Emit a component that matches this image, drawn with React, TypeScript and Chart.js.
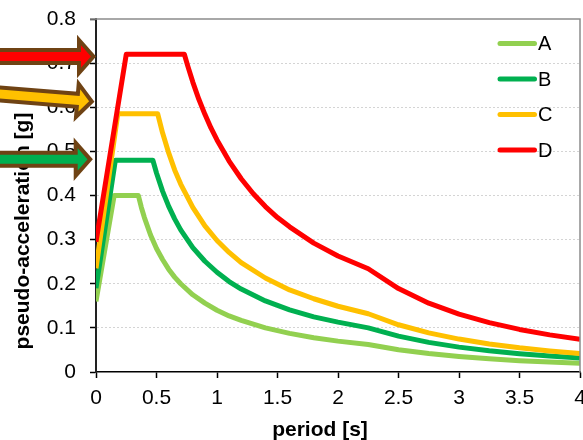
import React, { useEffect, useRef } from 'react';
import { Chart, registerables } from 'chart.js';

Chart.register(...registerables);

// ---- data ----
const seriesNames = ['A', 'B', 'C', 'D'];
const seriesColors = ['#92D050', '#00B050', '#FFC000', '#FF0000'];

const periodsA = [0, 0.15, 0.35, 0.375, 0.4, 0.45, 0.5, 0.55, 0.6, 0.65, 0.7, 0.8, 0.9, 1.0, 1.1, 1.2, 1.4, 1.6, 1.8, 2.0, 2.25, 2.5, 2.75, 3.0, 3.25, 3.5, 3.75, 4.0];
const accelA = [0.16, 0.40, 0.40, 0.373, 0.35, 0.311, 0.28, 0.255, 0.233, 0.215, 0.20, 0.175, 0.156, 0.14, 0.127, 0.117, 0.10, 0.0875, 0.0778, 0.07, 0.0622, 0.0504, 0.0417, 0.035, 0.0298, 0.0257, 0.0224, 0.0197];

const periodsB = [0, 0.16, 0.47, 0.5, 0.55, 0.6, 0.65, 0.7, 0.8, 0.9, 1.0, 1.1, 1.2, 1.4, 1.6, 1.8, 2.0, 2.25, 2.5, 2.75, 3.0, 3.25, 3.5, 3.75, 4.0];
const accelB = [0.19, 0.48, 0.48, 0.451, 0.41, 0.376, 0.347, 0.322, 0.282, 0.251, 0.226, 0.205, 0.188, 0.161, 0.141, 0.125, 0.113, 0.100, 0.0812, 0.0671, 0.0564, 0.0481, 0.0414, 0.0361, 0.0317];

const periodsC = [0, 0.18, 0.51, 0.55, 0.6, 0.65, 0.7, 0.8, 0.9, 1.0, 1.1, 1.2, 1.4, 1.6, 1.8, 2.0, 2.25, 2.5, 2.75, 3.0, 3.25, 3.5, 3.75, 4.0];
const accelC = [0.235, 0.585, 0.585, 0.542, 0.497, 0.458, 0.426, 0.373, 0.331, 0.298, 0.271, 0.248, 0.213, 0.186, 0.166, 0.149, 0.132, 0.107, 0.0887, 0.0746, 0.0635, 0.0548, 0.0477, 0.0419];

const periodsD = [0, 0.25, 0.73, 0.76, 0.8, 0.85, 0.9, 0.95, 1.0, 1.1, 1.2, 1.3, 1.4, 1.5, 1.6, 1.8, 2.0, 2.25, 2.5, 2.75, 3.0, 3.25, 3.5, 3.75, 4.0];
const accelD = [0.295, 0.72, 0.72, 0.692, 0.657, 0.618, 0.584, 0.553, 0.526, 0.478, 0.438, 0.404, 0.375, 0.350, 0.329, 0.292, 0.263, 0.234, 0.189, 0.156, 0.131, 0.112, 0.0965, 0.0841, 0.0739];

const xTickLabels = ['0', '0.5', '1', '1.5', '2', '2.5', '3', '3.5', '4'];
const yTickLabels = ['0', '0.1', '0.2', '0.3', '0.4', '0.5', '0.6', '0.7', '0.8'];
const xAxisTitle = 'period [s]';
const yAxisTitle = 'pseudo-acceleration [g]';

// annotation arrows (pointing at levels on the y axis)
const arrowColors = ['#FF0000', '#FFC000', '#00B050'];
const arrowTipLevels = [0.715, 0.613, 0.482];
const arrowTailLevels = [0.715, 0.630, 0.482];

const FONT = "'Liberation Sans', Arial, sans-serif";

const decorPlugin = {
  id: 'decor',
  afterDraw(chart: any) {
    const { ctx, chartArea: ca, scales } = chart;
    const ys = scales.y;
    ctx.save();

    // top and right frame
    ctx.strokeStyle = '#8c8c8c';
    ctx.lineWidth = 1.5;
    ctx.setLineDash([]);
    ctx.beginPath();
    ctx.moveTo(ca.left - 6, ca.top);
    ctx.lineTo(ca.right, ca.top);
    ctx.lineTo(ca.right, ca.bottom);
    ctx.stroke();

    // legend
    ctx.font = `20px ${FONT}`;
    ctx.textBaseline = 'middle';
    ctx.textAlign = 'left';
    seriesNames.forEach((name, i) => {
      const y = ca.top + 24.5 + i * 35.5;
      ctx.strokeStyle = seriesColors[i];
      ctx.lineWidth = 5;
      ctx.lineCap = 'round';
      ctx.beginPath();
      ctx.moveTo(ca.right - 80, y);
      ctx.lineTo(ca.right - 45.5, y);
      ctx.stroke();
      ctx.fillStyle = '#000';
      ctx.fillText(name, ca.right - 42, y + 1);
    });

    // axis titles
    ctx.fillStyle = '#000';
    ctx.font = `bold 21px ${FONT}`;
    ctx.textAlign = 'center';
    ctx.textBaseline = 'alphabetic';
    ctx.fillText(xAxisTitle, 320, 436);
    ctx.save();
    ctx.translate(29, 231);
    ctx.rotate(-Math.PI / 2);
    ctx.fillText(yAxisTitle, 0, 0);
    ctx.restore();

    // arrows
    const tipOffsets = [2.5, 4.2, 5.8];
    arrowColors.forEach((col, i) => {
      const x1 = ca.left - tipOffsets[i];
      const y1 = ys.getPixelForValue(arrowTipLevels[i]);
      const x0 = -20;
      const ty = ys.getPixelForValue(arrowTailLevels[i]);
      const y0 = ty + (ty - y1) * (20 / x1);
      const ang = Math.atan2(y1 - y0, x1 - x0);
      const L = Math.hypot(x1 - x0, y1 - y0);
      const hl = 14.5, hh = 16.5, sh = 6.5;
      ctx.save();
      ctx.translate(x0, y0);
      ctx.rotate(ang);
      ctx.beginPath();
      ctx.moveTo(0, -sh);
      ctx.lineTo(L - hl, -sh);
      ctx.lineTo(L - hl, -hh);
      ctx.lineTo(L, 0);
      ctx.lineTo(L - hl, hh);
      ctx.lineTo(L - hl, sh);
      ctx.lineTo(0, sh);
      ctx.closePath();
      ctx.fillStyle = col;
      ctx.fill();
      ctx.lineJoin = 'miter';
      ctx.miterLimit = 10;
      ctx.lineWidth = 4;
      ctx.strokeStyle = '#6f4314';
      ctx.stroke();
      ctx.restore();
    });

    ctx.restore();
  },
};

export default function App() {
  const canvasRef = useRef<HTMLCanvasElement | null>(null);

  useEffect(() => {
    const canvas = canvasRef.current;
    if (!canvas) return;
    const periods = [periodsA, periodsB, periodsC, periodsD];
    const accels = [accelA, accelB, accelC, accelD];
    const datasets = seriesNames.map((name, i) => ({
      label: name,
      data: periods[i].map((p, j) => ({ x: p, y: accels[i][j] })),
      borderColor: seriesColors[i],
      backgroundColor: seriesColors[i],
      borderWidth: 5,
      pointRadius: 0,
      fill: false,
      tension: 0,
      borderJoinStyle: 'round' as const,
      borderCapStyle: 'butt' as const,
      order: seriesNames.length - i,
    }));

    const chart = new Chart(canvas, {
      type: 'line',
      data: { datasets },
      plugins: [decorPlugin],
      options: {
        animation: false,
        responsive: false,
        devicePixelRatio: 1,
        layout: { padding: { top: 19, right: 3, bottom: 0, left: 0 } },
        plugins: {
          legend: { display: false },
          tooltip: { enabled: false },
          title: { display: false },
        },
        scales: {
          x: {
            type: 'linear',
            min: 0,
            max: 4,
            ticks: {
              stepSize: 0.5,
              padding: 8,
              color: '#000',
              font: { family: FONT, size: 21 },
              maxRotation: 0,
              autoSkip: false,
              callback: (v: any) => xTickLabels[Math.round(Number(v) * 2)] ?? '',
            },
            grid: {
              drawOnChartArea: false,
              drawTicks: true,
              tickLength: 6,
              tickColor: '#000',
              tickWidth: 1.5,
            },
            border: { color: '#000', width: 1.5 },
            afterFit: (s: any) => {
              s.height = 68;
              s.paddingLeft = 0;
              s.paddingRight = 0;
            },
          },
          y: {
            type: 'linear',
            min: 0,
            max: 0.8,
            ticks: {
              stepSize: 0.1,
              padding: 14,
              color: '#000',
              font: { family: FONT, size: 21 },
              callback: (v: any) => yTickLabels[Math.round(Number(v) * 10)] ?? '',
            },
            grid: {
              color: (c: any) => (c.tick && (c.tick.value === 0 || Math.abs(c.tick.value - 0.8) < 1e-6) ? 'rgba(0,0,0,0)' : '#d4d4d4'),
              lineWidth: 1,
              drawTicks: true,
              tickLength: 6,
              tickColor: '#000',
              tickWidth: 1.5,
            },
            border: { color: '#222', width: 2, dash: [2, 2] },
            afterFit: (s: any) => {
              s.width = 96;
              s.paddingTop = 0;
              s.paddingBottom = 0;
            },
          },
        },
      },
    });
    return () => chart.destroy();
  }, []);

  return (
    <div style={{ position: 'absolute', left: 0, top: 0, width: 583, height: 440, background: '#fff' }}>
      <canvas ref={canvasRef} width={583} height={440} />
    </div>
  );
}
